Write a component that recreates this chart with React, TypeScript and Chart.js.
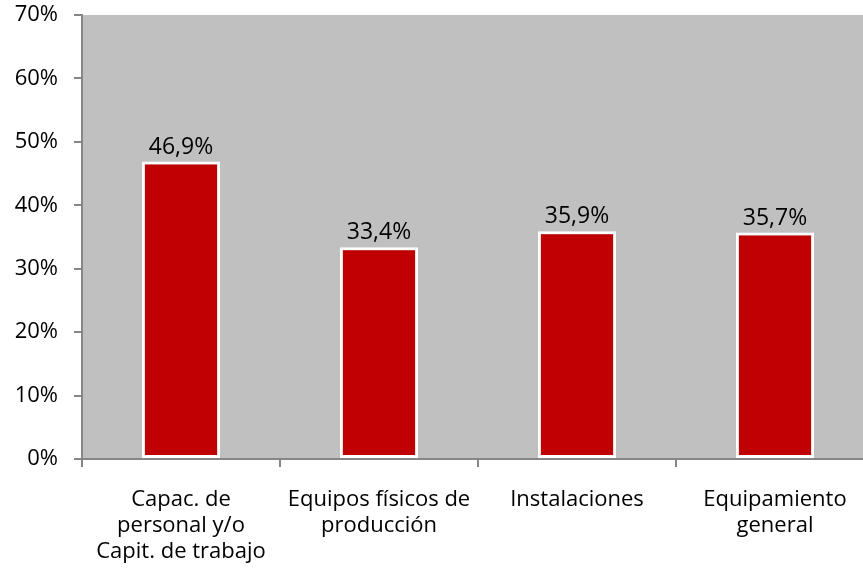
import React, { useEffect, useRef } from "react";
import { Chart, registerables } from "chart.js";

Chart.register(...registerables);

const categories: string[][] = [
  ["Capac. de", "personal y/o", "Capit. de trabajo"],
  ["Equipos físicos de", "producción"],
  ["Instalaciones"],
  ["Equipamiento", "general"],
];
const values: number[] = [46.9, 33.4, 35.9, 35.7];
const yTicks: number[] = [0, 10, 20, 30, 40, 50, 60, 70];

const FONT = "'Open Sans', sans-serif";

const bgPlugin = {
  id: "plotBg",
  beforeDraw(chart: any) {
    const { ctx, chartArea } = chart;
    ctx.save();
    ctx.fillStyle = "#c0c0c0";
    ctx.fillRect(chartArea.left, chartArea.top, chartArea.right - chartArea.left, chartArea.bottom - chartArea.top);
    ctx.restore();
  },
};

const labelPlugin = {
  id: "barLabels",
  afterDatasetsDraw(chart: any) {
    const { ctx } = chart;
    const meta = chart.getDatasetMeta(0);
    ctx.save();
    ctx.font = `23px ${FONT}`;
    ctx.fillStyle = "#000";
    ctx.textAlign = "center";
    ctx.textBaseline = "bottom";
    meta.data.forEach((bar: any, i: number) => {
      const txt = values[i].toFixed(1).replace(".", ",") + "%";
      ctx.fillText(txt, bar.x, bar.y - 3);
    });
    ctx.restore();
  },
};

export default function App() {
  const ref = useRef<HTMLCanvasElement>(null);
  useEffect(() => {
    if (!ref.current) return;
    const chart = new Chart(ref.current, {
      type: "bar",
      data: {
        labels: categories,
        datasets: [
          {
            data: values,
            backgroundColor: "#c00000",
            borderColor: "#ffffff",
            borderWidth: 3,
            borderSkipped: false,
            barPercentage: 0.395,
            categoryPercentage: 1,
          },
        ],
      },
      options: {
        animation: false,
        responsive: true,
        maintainAspectRatio: false,
        layout: { padding: { top: 0, left: 0, right: 6, bottom: 0 } },
        plugins: { legend: { display: false }, tooltip: { enabled: false } },
        scales: {
          x: {
            grid: { drawOnChartArea: false, drawTicks: true, tickLength: 8, color: "#868686", lineWidth: 2, offset: true },
            border: { color: "#868686", width: 2 },
            ticks: { color: "#000", font: { family: FONT, size: 22, lineHeight: 1.18 }, padding: 20, maxRotation: 0, autoSkip: false },
            afterFit(scale: any) {
              scale.height = 111;
            },
          },
          y: {
            min: 0,
            max: 70,
            afterBuildTicks(scale: any) {
              scale.ticks = yTicks.map((v) => ({ value: v }));
            },
            grid: { drawOnChartArea: false, drawTicks: true, tickLength: 8, color: "#868686", lineWidth: 2 },
            border: { color: "#868686", width: 2 },
            ticks: {
              color: "#000",
              font: { family: FONT, size: 22 },
              padding: 16,
              callback: (v: any) => v + "%",
            },
            afterFit(scale: any) {
              scale.width = 82;
              scale.paddingTop = 15;
              scale.paddingBottom = 0;
            },
          },
        },
      },
      plugins: [bgPlugin, labelPlugin],
    });
    return () => chart.destroy();
  }, []);
  return (
    <div style={{ position: "fixed", left: 0, top: 0, width: 880, height: 570 }}>
      <canvas ref={ref} />
    </div>
  );
}
